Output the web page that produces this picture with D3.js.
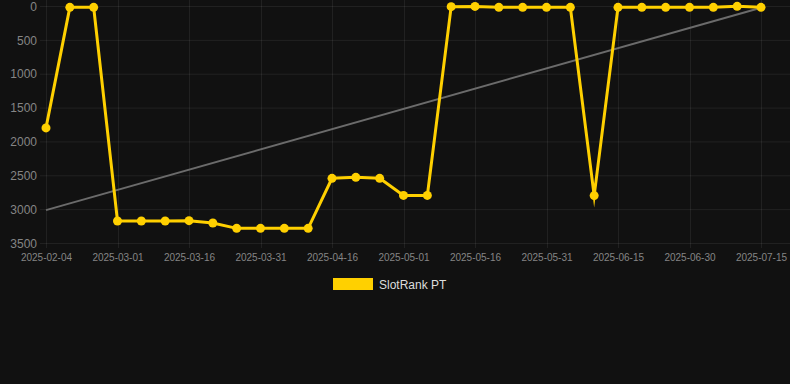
<!DOCTYPE html>
<html>
<head>
<meta charset="utf-8">
<script src="https://cdn.jsdelivr.net/npm/d3@7"></script>
<style>
  html, body { margin: 0; padding: 0; background: #111111; }
  svg { display: block; }
  text { font-family: "Liberation Sans", Arial, Helvetica, sans-serif; }
</style>
</head>
<body>
<svg id="chart" width="790" height="384"></svg>
<script>
const dates = [
  "2025-02-04","2025-02-12","2025-02-20","2025-03-01","2025-03-06","2025-03-11",
  "2025-03-16","2025-03-21","2025-03-26","2025-03-31","2025-04-05","2025-04-11",
  "2025-04-16","2025-04-21","2025-04-26","2025-05-01","2025-05-06","2025-05-11",
  "2025-05-16","2025-05-21","2025-05-26","2025-05-31","2025-06-05","2025-06-10",
  "2025-06-15","2025-06-20","2025-06-25","2025-06-30","2025-07-05","2025-07-10",
  "2025-07-15"
];
const rankValues = [
  1800, 20, 20, 3175, 3175, 3175,
  3170, 3205, 3284, 3284, 3284, 3284,
  2545, 2530, 2545, 2797, 2797, 10,
  6, 20, 20, 20, 20, 2800,
  20, 20, 20, 20, 20, 5,
  20
];
const trendValues = [3015, 25];
const yTicks = [0, 500, 1000, 1500, 2000, 2500, 3000, 3500];
const seriesName = "SlotRank PT";

const svg = d3.select("#chart");
const W = 790;
const x = d3.scalePoint().domain(dates).range([46, 761]);
const y = d3.scaleLinear().domain([0, 3500]).range([6, 243]);

const labeled = dates.filter((d, i) => i % 3 === 0);

// grid
const grid = svg.append("g");
grid.selectAll("line.h").data(yTicks).enter().append("line")
  .attr("x1", 40).attr("x2", W)
  .attr("y1", d => y(d) + 0.5).attr("y2", d => y(d) + 0.5)
  .attr("stroke", "rgba(255,255,255,0.07)").attr("stroke-width", 1);
grid.selectAll("line.v").data(labeled).enter().append("line")
  .attr("x1", d => Math.round(x(d)) + 0.5).attr("x2", d => Math.round(x(d)) + 0.5)
  .attr("y1", 0).attr("y2", 248)
  .attr("stroke", "rgba(255,255,255,0.07)").attr("stroke-width", 1);

// y axis
const yAxis = d3.axisLeft(y).tickValues(yTicks).tickSize(0).tickPadding(0).tickFormat(d3.format("d"));
const gy = svg.append("g").attr("transform", "translate(37,0)").call(yAxis);
gy.select(".domain").remove();
gy.selectAll("text").attr("fill", "#858585").style("font-size", "12px")
  .attr("dy", "0.35em");

// x axis
const xAxis = d3.axisBottom(x).tickValues(labeled).tickSize(0).tickPadding(0);
const gx = svg.append("g").attr("transform", "translate(0,254)").call(xAxis);
gx.select(".domain").remove();
gx.selectAll("text").attr("fill", "#858585").style("font-size", "10px").attr("dy", "0.71em");

// trend line
const trendX = [dates[0], dates[dates.length - 1]];
svg.append("path")
  .datum(trendValues.map((v, i) => [trendX[i], v]))
  .attr("d", d3.line().x(d => x(d[0])).y(d => y(d[1])))
  .attr("fill", "none").attr("stroke", "#6b6b6b").attr("stroke-width", 2);

// series line
const yellow = "#ffd000";
svg.append("path")
  .datum(rankValues.map((v, i) => [dates[i], v]))
  .attr("d", d3.line().x(d => x(d[0])).y(d => y(d[1])))
  .attr("fill", "none").attr("stroke", yellow).attr("stroke-width", 3)
  .attr("stroke-linejoin", "miter").attr("stroke-miterlimit", 10);

svg.append("g").selectAll("circle").data(rankValues).enter().append("circle")
  .attr("cx", (d, i) => x(dates[i])).attr("cy", d => y(d))
  .attr("r", 4.5).attr("fill", yellow);

// legend
const lg = svg.append("g");
lg.append("rect").attr("x", 333).attr("y", 278).attr("width", 40).attr("height", 12)
  .attr("fill", yellow);
lg.append("text").attr("x", 379).attr("y", 289).text(seriesName)
  .attr("fill", "#dddddd").style("font-size", "12px");
</script>
</body>
</html>
